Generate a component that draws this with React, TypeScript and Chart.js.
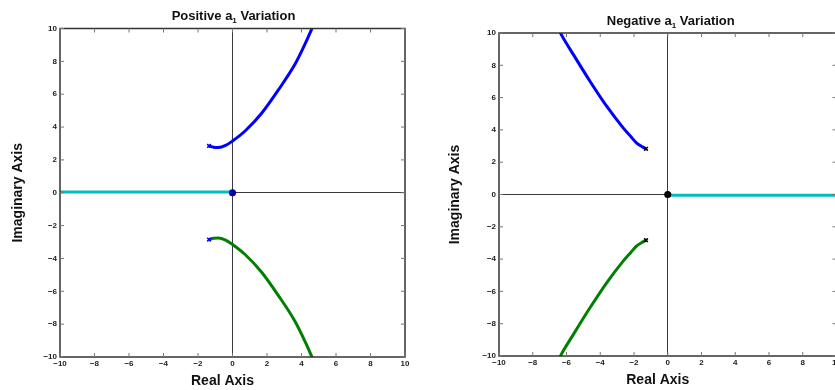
import React, { useEffect, useRef } from "react";
import { Chart, registerables } from "chart.js";

Chart.register(...registerables);

// ---------- data ----------
const tickValues = [-10, -8, -6, -4, -2, 0, 2, 4, 6, 8, 10];

// Positive a1 variation
const posUpperX = [-1.36, -1.1, -0.82, -0.4, 0, 0.73, 1.69, 2.66, 3.62, 4.1, 4.59, 4.7];
const posUpperY = [2.85, 2.77, 2.75, 2.88, 3.15, 3.76, 4.84, 6.26, 7.82, 8.82, 9.96, 10.25];
const posLowerX = [-1.36, -1.1, -0.82, -0.4, 0, 0.73, 1.69, 2.66, 3.62, 4.1, 4.59, 4.7];
const posLowerY = [-2.85, -2.77, -2.75, -2.88, -3.15, -3.76, -4.84, -6.26, -7.82, -8.82, -9.96, -10.25];
const posRealX = [-10, 0];
const posRealY = [0.05, 0.05];
const posPolesX = [-1.36, -1.36];
const posPolesY = [2.85, -2.85];
const posZeroX = [0];
const posZeroY = [0];

// Negative a1 variation
const negUpperX = [-6.45, -6.34, -5.59, -4.6, -3.61, -2.63, -2.2, -1.84, -1.5, -1.29];
const negUpperY = [10.2, 9.96, 8.66, 7.0, 5.45, 4.11, 3.6, 3.18, 2.95, 2.83];
const negLowerX = [-6.45, -6.34, -5.59, -4.6, -3.61, -2.63, -2.2, -1.84, -1.5, -1.29];
const negLowerY = [-10.2, -9.96, -8.66, -7.0, -5.45, -4.11, -3.6, -3.18, -2.95, -2.83];
const negRealX = [0, 10];
const negRealY = [-0.05, -0.05];
const negPolesX = [-1.29, -1.29];
const negPolesY = [2.83, -2.83];
const negZeroX = [0];
const negZeroY = [0];

const zip = (xs: number[], ys: number[]) => xs.map((x, i) => ({ x, y: ys[i] }));

const FONT = "'Liberation Sans', Arial, Helvetica, sans-serif";

const boxPlugin = {
  id: "matlabBox",
  afterDatasetsDraw(chart: any) {
    const { ctx, chartArea: a, scales } = chart;
    ctx.save();
    ctx.strokeStyle = "#333";
    ctx.lineWidth = 1.5;
    ctx.strokeRect(a.left, a.top, a.right - a.left, a.bottom - a.top);
    ctx.lineWidth = 1;
    ctx.strokeStyle = "#777";
    const len = 4;
    ctx.beginPath();
    scales.x.ticks.forEach((t: any) => {
      const px = scales.x.getPixelForValue(t.value);
      ctx.moveTo(px, a.bottom);
      ctx.lineTo(px, a.bottom - len);
      ctx.moveTo(px, a.top);
      ctx.lineTo(px, a.top + len);
    });
    scales.y.ticks.forEach((t: any) => {
      const py = scales.y.getPixelForValue(t.value);
      ctx.moveTo(a.left, py);
      ctx.lineTo(a.left + len, py);
      ctx.moveTo(a.right, py);
      ctx.lineTo(a.right - len, py);
    });
    ctx.stroke();
    ctx.restore();
  },
};

// Draws the panel title (with subscript) and the x-axis label
const textPlugin = {
  id: "panelText",
  afterDraw(chart: any, _args: any, opts: any) {
    const { ctx, chartArea: a } = chart;
    const cx = (a.left + a.right) / 2;
    ctx.save();
    ctx.fillStyle = "#111";
    ctx.textBaseline = "alphabetic";
    ctx.textAlign = "left";
    const big = `bold 13px ${FONT}`;
    const small = `bold 8px ${FONT}`;
    const parts: [string, string, number][] = [
      [opts.pre, big, 0],
      [opts.sub, small, 3.5],
      [opts.post, big, 0],
    ];
    let total = 0;
    parts.forEach(([t, f]) => {
      ctx.font = f;
      total += ctx.measureText(t).width;
    });
    let x = cx + opts.titleDx - total / 2;
    parts.forEach(([t, f, dy]) => {
      ctx.font = f;
      ctx.fillText(t, x, opts.titleY + dy);
      x += ctx.measureText(t).width;
    });
    ctx.font = `bold 14px ${FONT}`;
    ctx.textAlign = "center";
    ctx.textBaseline = "middle";
    ctx.fillText(opts.xLabel, cx + opts.xLabelDx, opts.xLabelY);
    ctx.restore();
  },
};

type PanelCfg = {
  titlePre: string;
  titleSub: string;
  titlePost: string;
  titleY: number;
  titleDx: number;
  xLabel: string;
  xLabelY: number;
  xLabelDx: number;
  yLabel: string;
  padTop: number;
  yWidth: number;
  xHeight: number;
  padRight: number;
  yTitlePad: number;
  markColor: string;
  zeroColor: string;
  upper: { x: number; y: number }[];
  lower: { x: number; y: number }[];
  real: { x: number; y: number }[];
  poles: { x: number; y: number }[];
  zero: { x: number; y: number }[];
  width: number;
};

const fmt = (v: number) => (v < 0 ? "\u2212" + Math.abs(v) : String(v));

function Panel({ cfg }: { cfg: PanelCfg }) {
  const ref = useRef<HTMLCanvasElement | null>(null);
  useEffect(() => {
    if (!ref.current) return;
    const chart = new Chart(ref.current, {
      type: "line",
      data: {
        datasets: [
          {
            data: cfg.zero,
            showLine: false,
            pointStyle: "circle",
            pointRadius: 2.8,
            pointBackgroundColor: cfg.zeroColor,
            pointBorderColor: cfg.zeroColor,
            pointBorderWidth: 1.5,
            borderColor: cfg.zeroColor,
          },
          {
            data: cfg.poles,
            showLine: false,
            pointStyle: "crossRot",
            pointRadius: 2.6,
            pointBorderColor: cfg.markColor,
            pointBorderWidth: 1.6,
            borderColor: cfg.markColor,
          },
          {
            data: cfg.upper,
            borderColor: "#0000ff",
            borderWidth: 3,
            pointRadius: 0,
            cubicInterpolationMode: "monotone",
          },
          {
            data: cfg.lower,
            borderColor: "#008000",
            borderWidth: 3,
            pointRadius: 0,
            cubicInterpolationMode: "monotone",
          },
          {
            data: cfg.real,
            borderColor: "#00bfbf",
            borderWidth: 3,
            pointRadius: 0,
          },
        ],
      } as any,
      options: {
        responsive: false,
        animation: false,
        events: [],
        layout: { padding: { left: 0, right: cfg.padRight, top: cfg.padTop, bottom: 0 } },
        plugins: {
          legend: { display: false },
          tooltip: { enabled: false },
          title: { display: false },
          panelText: {
            pre: cfg.titlePre,
            sub: cfg.titleSub,
            post: cfg.titlePost,
            titleY: cfg.titleY,
            titleDx: cfg.titleDx,
            xLabel: cfg.xLabel,
            xLabelY: cfg.xLabelY,
            xLabelDx: cfg.xLabelDx,
          },
        },
        scales: {
          x: {
            type: "linear",
            min: -10,
            max: 10,
            afterBuildTicks: (s: any) => {
              s.ticks = tickValues.map((v) => ({ value: v }));
            },
            afterFit: (s: any) => {
              s.height = cfg.xHeight;
            },
            grid: {
              drawTicks: false,
              lineWidth: 1,
              color: (c: any) => (c.tick && c.tick.value === 0 ? "#3a3a3a" : "rgba(0,0,0,0)"),
            },
            border: { display: false },
            ticks: {
              color: "#222",
              padding: 2,
              maxRotation: 0,
              autoSkip: false,
              font: { family: FONT, size: 8, weight: "bold" },
              callback: (v: any) => fmt(Number(v)),
            },
          },
          y: {
            type: "linear",
            min: -10,
            max: 10,
            afterBuildTicks: (s: any) => {
              s.ticks = tickValues.map((v) => ({ value: v }));
            },
            afterFit: (s: any) => {
              s.width = cfg.yWidth;
            },
            grid: {
              drawTicks: false,
              lineWidth: 1,
              color: (c: any) => (c.tick && c.tick.value === 0 ? "#3a3a3a" : "rgba(0,0,0,0)"),
            },
            border: { display: false },
            ticks: {
              color: "#222",
              padding: 3,
              autoSkip: false,
              font: { family: FONT, size: 8, weight: "bold" },
              callback: (v: any) => fmt(Number(v)),
            },
            title: {
              display: true,
              text: cfg.yLabel,
              color: "#111",
              font: { family: FONT, size: 14, weight: "bold" },
              padding: { top: cfg.yTitlePad, bottom: 0 },
            },
          },
        },
      } as any,
      plugins: [boxPlugin, textPlugin],
    });
    return () => chart.destroy();
  }, []);
  return <canvas ref={ref} width={cfg.width} height={390} style={{ display: "block" }} />;
}

const leftCfg: PanelCfg = {
  titlePre: "Positive a",
  titleSub: "1",
  titlePost: " Variation",
  titleY: 19.5,
  titleDx: 1,
  xLabel: "Real Axis",
  xLabelY: 381.5,
  xLabelDx: -10,
  yLabel: "Imaginary Axis",
  padTop: 28.5,
  yWidth: 60,
  xHeight: 33,
  padRight: 15,
  yTitlePad: 9.6,
  markColor: "#0000ff",
  zeroColor: "#0000b0",
  upper: zip(posUpperX, posUpperY),
  lower: zip(posLowerX, posLowerY),
  real: zip(posRealX, posRealY),
  poles: zip(posPolesX, posPolesY),
  zero: zip(posZeroX, posZeroY),
  width: 420,
};

const rightCfg: PanelCfg = {
  titlePre: "Negative a",
  titleSub: "1",
  titlePost: " Variation",
  titleY: 24.5,
  titleDx: 3,
  xLabel: "Real Axis",
  xLabelY: 380.5,
  xLabelDx: -10,
  yLabel: "Imaginary Axis",
  padTop: 33,
  yWidth: 79,
  xHeight: 34,
  padRight: 23.5,
  yTitlePad: 27,
  markColor: "#000000",
  zeroColor: "#000000",
  upper: zip(negUpperX, negUpperY),
  lower: zip(negLowerX, negLowerY),
  real: zip(negRealX, negRealY),
  poles: zip(negPolesX, negPolesY),
  zero: zip(negZeroX, negZeroY),
  width: 440,
};

export default function App() {
  return (
    <div
      style={{
        position: "absolute",
        left: 0,
        top: 0,
        width: 835,
        height: 390,
        overflow: "hidden",
        background: "#fff",
      }}
    >
      <div style={{ position: "absolute", left: 0, top: 0 }}>
        <Panel cfg={leftCfg} />
      </div>
      <div style={{ position: "absolute", left: 420, top: 0 }}>
        <Panel cfg={rightCfg} />
      </div>
    </div>
  );
}
